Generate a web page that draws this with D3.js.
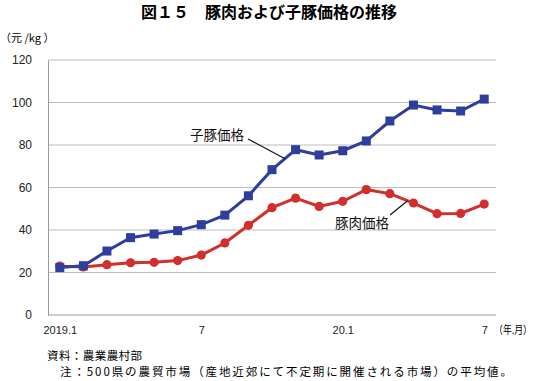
<!DOCTYPE html>
<html>
<head>
<meta charset="utf-8">
<script src="https://cdn.jsdelivr.net/npm/d3@7"></script>
<style>
  body { margin: 0; background: #fff; }
  text { font-family: "Liberation Sans", Arial, "Noto Sans CJK JP", sans-serif; }
  .jp { font-family: "Noto Sans CJK JP", sans-serif; }
</style>
</head>
<body>
<div id="chart"></div>
<script>
// data (2019.1 - 2020.7, monthly)
var months = ["2019.1","2","3","4","5","6","7","8","9","10","11","12",
              "20.1","2","3","4","5","6","7"];
var tickIdx = [0, 6, 12, 18];
var tickLabels = ["2019.1", "7", "20.1", "7"];
var pigletPrice = [22.3, 23.2, 30.1, 36.4, 38.1, 39.7, 42.5, 47.0, 56.1, 68.4,
                   77.8, 75.3, 77.3, 81.9, 91.3, 98.8, 96.5, 96.0, 101.6];
var porkPrice   = [23.0, 22.6, 23.7, 24.6, 24.8, 25.6, 28.2, 33.9, 42.2, 50.5,
                   55.0, 51.1, 53.5, 59.0, 57.1, 52.7, 47.7, 47.8, 52.2];
var yTicks = [0, 20, 40, 60, 80, 100, 120];

const W = 536, H = 381;
const plot = { left: 48, right: 496, top: 60, bottom: 315 };
const blue = "#2d3e9c", red = "#d02f2b";

var svg = d3.select("#chart").append("svg")
    .attr("width", W).attr("height", H);

var x = d3.scalePoint()
    .domain(d3.range(months.length))
    .range([plot.left, plot.right])
    .padding(0.5);
var y = d3.scaleLinear()
    .domain([0, 120])
    .range([plot.bottom, plot.top]);

// title
svg.append("text")
    .attr("class", "jp")
    .attr("x", 269).attr("y", 18)
    .attr("text-anchor", "middle")
    .attr("font-size", 16).attr("font-weight", "bold")
    .text("図１５　豚肉および子豚価格の推移");

// unit
svg.append("text")
    .attr("class", "jp")
    .attr("x", 0).attr("y", 42)
    .attr("font-size", 11)
    .text("（元 /kg ）");

// gridlines
svg.append("g")
    .selectAll("line")
    .data(yTicks.filter(d => d > 0))
    .enter().append("line")
    .attr("x1", plot.left).attr("x2", plot.right)
    .attr("y1", d => y(d)).attr("y2", d => y(d))
    .attr("stroke", "#bdbdbd").attr("stroke-width", 1);

// y axis
var yAxis = svg.append("g")
    .attr("transform", `translate(${plot.left},0)`)
    .call(d3.axisLeft(y).tickValues(yTicks).tickSize(0).tickPadding(16));
yAxis.select(".domain").attr("stroke", "#9a9a9a");
yAxis.selectAll("text").attr("font-size", 12).attr("fill", "#222")
    .attr("font-family", "Liberation Sans, Arial, sans-serif");

// x axis
var xAxis = svg.append("g")
    .attr("transform", `translate(0,${plot.bottom})`)
    .call(d3.axisBottom(x).tickValues(tickIdx).tickSize(0).tickPadding(11)
        .tickFormat(d => tickLabels[tickIdx.indexOf(d)]));
xAxis.select(".domain").attr("stroke", "#9a9a9a")
    .attr("d", `M${plot.left},0H${plot.right}`);
xAxis.selectAll("text").attr("font-size", 11).attr("fill", "#222")
    .attr("font-family", "Liberation Sans, Arial, sans-serif");

svg.append("text")
    .attr("class", "jp")
    .attr("x", 494).attr("y", 334)
    .attr("font-size", 11)
    .attr("textLength", 38).attr("lengthAdjust", "spacingAndGlyphs")
    .text("（年.月）");

var line = d3.line().x((d, i) => x(i)).y(d => y(d));

// pork
svg.append("path").datum(porkPrice)
    .attr("d", line).attr("fill", "none")
    .attr("stroke", red).attr("stroke-width", 3);
svg.append("g").selectAll("circle")
    .data(porkPrice).enter().append("circle")
    .attr("cx", (d, i) => x(i)).attr("cy", d => y(d))
    .attr("r", 4.6).attr("fill", red);

// piglet
svg.append("path").datum(pigletPrice)
    .attr("d", line).attr("fill", "none")
    .attr("stroke", blue).attr("stroke-width", 3);
svg.append("g").selectAll("rect")
    .data(pigletPrice).enter().append("rect")
    .attr("x", (d, i) => x(i) - 4.5).attr("y", d => y(d) - 4.5)
    .attr("width", 9).attr("height", 9).attr("fill", blue);

// labels with leader lines
function along(arr, i, t) {
    return [x(i) + t * x.step(), y(arr[i] + t * (arr[i + 1] - arr[i]))];
}
var p1 = along(pigletPrice, 9, 0.55);
svg.append("line")
    .attr("x1", 248).attr("y1", 139).attr("x2", p1[0]).attr("y2", p1[1])
    .attr("stroke", "#111").attr("stroke-width", 1.2);
svg.append("text").attr("class", "jp")
    .attr("x", 190).attr("y", 140)
    .attr("font-size", 13.5).attr("fill", "#111")
    .text("子豚価格");

var p2 = along(porkPrice, 14, 0.75);
svg.append("line")
    .attr("x1", 390).attr("y1", 215).attr("x2", p2[0]).attr("y2", p2[1])
    .attr("stroke", "#111").attr("stroke-width", 1.2);
svg.append("text").attr("class", "jp")
    .attr("x", 335).attr("y", 228)
    .attr("font-size", 13.5).attr("fill", "#111")
    .text("豚肉価格");

// notes
svg.append("text").attr("class", "jp")
    .attr("x", 47).attr("y", 360)
    .attr("font-size", 11.5)
    .attr("textLength", 95).attr("lengthAdjust", "spacing")
    .text("資料：農業農村部");
svg.append("text").attr("class", "jp")
    .attr("x", 60).attr("y", 376)
    .attr("font-size", 11.5)
    .attr("textLength", 452).attr("lengthAdjust", "spacing")
    .text("注：500県の農貿市場（産地近郊にて不定期に開催される市場）の平均値。");
</script>
</body>
</html>
